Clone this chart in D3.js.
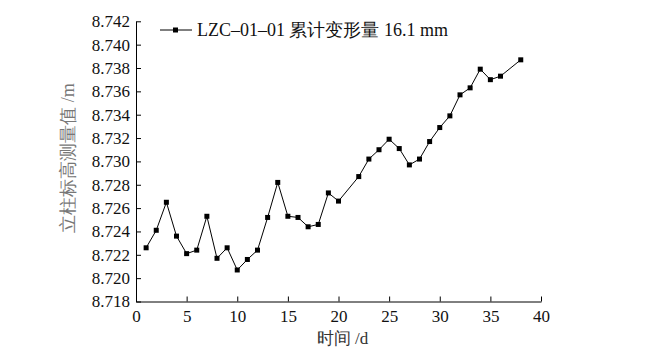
<!DOCTYPE html>
<html><head><meta charset="utf-8">
<script src="https://cdn.jsdelivr.net/npm/d3@7"></script>
<style>body{margin:0;background:#fff}svg{display:block}</style>
</head><body>
<svg id="c" width="670" height="358"></svg>
<script>
const days = [1,2,3,4,5,6,7,8,9,10,11,12,13,14,15,16,17,18,19,20,22,23,24,25,26,27,28,29,30,31,32,33,34,35,36,38];
const heights = [8.7226,8.7241,8.7265,8.7236,8.7221,8.7224,8.7253,8.7217,8.7226,8.7207,8.7216,8.7224,8.7252,8.7282,8.7253,8.7252,8.7244,8.7246,8.7273,8.7266,8.7287,8.7302,8.7310,8.7319,8.7311,8.7297,8.7302,8.7317,8.7329,8.7339,8.7357,8.7363,8.7379,8.7370,8.7373,8.7387];
const xTicks = [0,5,10,15,20,25,30,35,40];
const yTicks = [8.718,8.720,8.722,8.724,8.726,8.728,8.730,8.732,8.734,8.736,8.738,8.740,8.742];
const seriesName = "LZC–01–01 累计变形量 16.1 mm";
const xTitle = "时间 /d";
const yTitle = "立柱标高测量值 /m";

const font = "Liberation Serif";
const svg = d3.select("#c");
svg.append("rect").attr("width",670).attr("height",358).attr("fill","#fff");

const x = d3.scaleLinear().domain([0,40]).range([136,541]);
const y = d3.scaleLinear().domain([8.718,8.742]).range([301.5,21.3]);

const xAxis = d3.axisBottom(x).tickValues(xTicks).tickFormat(d3.format("d"))
  .tickSizeInner(-5).tickSizeOuter(0).tickPadding(8);
const yAxis = d3.axisLeft(y).tickValues(yTicks).tickFormat(d3.format(".3f"))
  .tickSizeInner(-5).tickSizeOuter(0).tickPadding(6);

const gx = svg.append("g").attr("transform",`translate(0,${y(8.718)})`).call(xAxis);
const gy = svg.append("g").attr("transform",`translate(${x(0)},0)`).call(yAxis);
[gx,gy].forEach(g=>{
  g.attr("font-family",font).attr("font-size",17);
  g.selectAll("path,line").attr("stroke","#000").attr("stroke-width",1);
  g.selectAll("text").attr("font-family",font).attr("font-size",17).attr("fill","#111");
});

const line = d3.line().x((d,i)=>x(days[i])).y(d=>y(d));
svg.append("path").datum(heights).attr("d",line).attr("fill","none")
  .attr("stroke","#000").attr("stroke-width",1);
svg.append("g").selectAll("rect").data(heights).join("rect")
  .attr("x",(d,i)=>x(days[i])-2.5).attr("y",d=>y(d)-2.5)
  .attr("width",5).attr("height",5).attr("fill","#000");

// legend
const lg = svg.append("g");
lg.append("line").attr("x1",160).attr("x2",192).attr("y1",30).attr("y2",30).attr("stroke","#000");
lg.append("rect").attr("x",173).attr("y",27.5).attr("width",5).attr("height",5).attr("fill","#000");
lg.append("text").attr("x",197).attr("y",36).attr("font-family",font).attr("font-size",18)
  .attr("fill","#111").text(seriesName);

svg.append("text").attr("x",342.5).attr("y",344).attr("text-anchor","middle")
  .attr("font-family",font).attr("font-size",17).attr("fill","#333").text(xTitle);
svg.append("text").attr("transform","translate(74,158) rotate(-90)").attr("text-anchor","middle")
  .attr("font-family",font).attr("font-size",18).attr("fill","#777").text(yTitle);
</script>
</body></html>
